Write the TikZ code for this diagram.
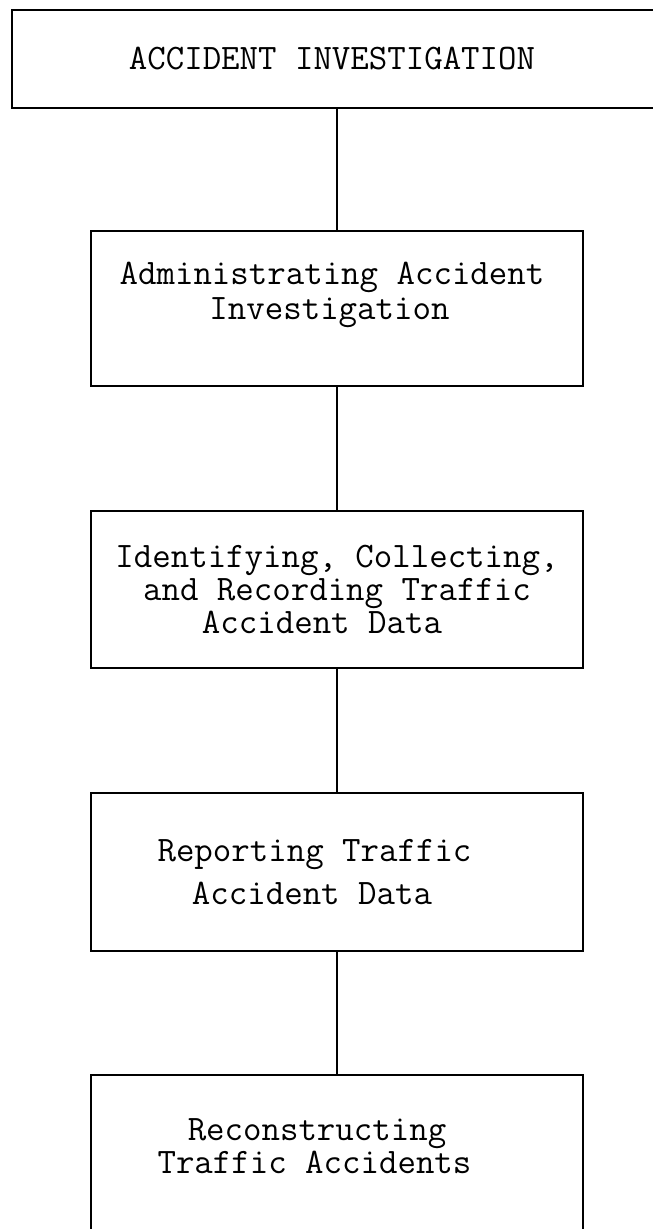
\documentclass[tikz,border=0pt]{standalone}
\begin{document}
\begin{tikzpicture}[
    box/.style={draw, line width=1.1pt, minimum width=9.84cm, minimum height=3.1cm, align=center, inner sep=0pt},
    txt/.style={font=\ttfamily\fontsize{20.4}{18.8}\selectfont},
    link/.style={line width=0.8pt}
]
    \useasboundingbox (0,0) rectangle (13.06,-24.58);

    % Title box (runs off the right edge)
    \node[box, txt, line width=1.6pt, minimum width=13.0cm, minimum height=1.96cm] (title) at (6.74,-1.18) {ACCIDENT INVESTIGATION\hspace*{0.2cm}};

    % Steps
    \node[box, txt, text depth=0.7cm] (admin) at (6.74,-6.17) {Administrating Accident\hspace*{0.2cm}\\[1pt]Investigation\hspace*{0.3cm}};
    \node[box, txt, minimum height=3.14cm] (collect) at (6.74,-11.79) {Identifying, Collecting,\\and Recording Traffic\hspace*{0.2cm}\\Accident Data\hspace*{0.6cm}};
    \node[box, txt, minimum height=3.16cm] (report) at (6.74,-17.44) {Reporting Traffic\hspace*{0.9cm}\\[5.7pt]Accident Data\hspace*{1.0cm}};
    \node[box, txt, text depth=0.25cm] (recon) at (6.74,-23.05) {Reconstructing\hspace*{0.8cm}\\Traffic Accidents\hspace*{0.9cm}};

    % Connectors
    \draw[link] (title) -- (admin);
    \draw[link] (admin) -- (collect);
    \draw[link] (collect) -- (report);
    \draw[link] (report) -- (recon);
\end{tikzpicture}
\end{document}
